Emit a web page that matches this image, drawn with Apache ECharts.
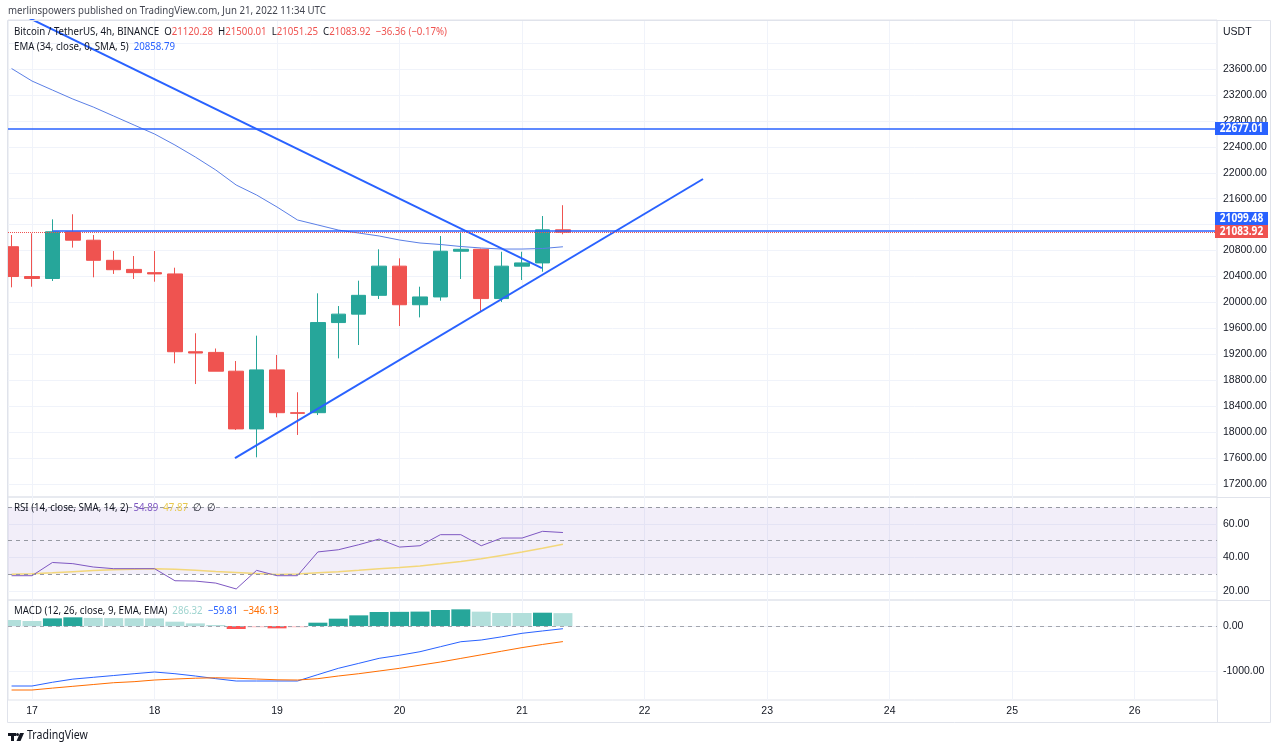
<!DOCTYPE html>
<html>
<head>
<meta charset="utf-8">
<title>BTCUSDT 4h</title>
<script src="https://cdn.jsdelivr.net/npm/echarts@6/dist/echarts.min.js"></script>
<style>
  html, body { margin: 0; padding: 0; background: #fff; }
  #chart { width: 1280px; height: 752px; }
</style>
</head>
<body>
<div id="chart"></div>
<script>
// 4h bars, index 0 = Jun 17 00:00 (first bar is Jun 16 20:00)
const firstBar = -1;
const dayLabels = ["17", "18", "19", "20", "21", "22", "23", "24", "25", "26"];

const opens  = [20860, 20400, 20370, 21090, 20960, 20650, 20510, 20460, 20440, 19240, 19230, 18940, 18050, 18960,
                18300, 18300, 19690, 19820, 20110, 20560, 19965, 20085, 20790, 20820, 20060, 20560, 20610, 21120.28];
const closes = [20400, 20370, 21090, 20960, 20650, 20505, 20460, 20440, 19240, 19220, 18940, 18050, 18960, 18300,
                18290, 19690, 19820, 20110, 20560, 19965, 20085, 20790, 20820, 20060, 20560, 20610, 21120.28, 21083.92];
const lows   = [20233, 20243, 20331, 20846, 20388, 20440, 20362, 20320, 19062, 18742, 18940, 18033, 17612, 18229,
                17957, 18264, 19138, 19344, 20053, 19637, 19770, 20027, 20362, 19857, 20007, 20346, 20474, 21051.25];
const highs  = [21040, 21066, 21282, 21360, 21040, 20793, 20716, 20793, 20536, 19525, 19290, 19097, 19488, 19190,
                18615, 20141, 19945, 20336, 20820, 20681, 20243, 21025, 21087, 20830, 20782, 20782, 21333, 21500.01];

const ema    = [23608, 23415, 23276, 23137, 23014, 22875, 22736, 22598, 22428, 22243, 22043, 21811, 21657, 21472,
                21272, 21195, 21117, 21071, 21025, 20963, 20917, 20894, 20863, 20840, 20824, 20824, 20832, 20858.79];

const rsi    = [29.1, 29.1, 37.0, 36.3, 34.3, 33.3, 33.3, 33.3, 26.1, 25.9, 24.7, 21.2, 32.3, 29.1,
                29.1, 43.3, 44.6, 47.6, 51.0, 46.2, 47.0, 53.6, 53.6, 47.0, 51.6, 51.6, 55.6, 54.89];
const rsiSma = [30.0, 30.2, 30.8, 31.5, 32.2, 32.7, 33.0, 33.3, 33.0, 32.4, 31.6, 31.0, 30.4, 29.9,
                30.1, 30.8, 31.5, 32.3, 33.2, 34.0, 34.9, 36.2, 37.6, 39.2, 41.2, 43.2, 45.5, 47.87];

const macd   = [-1333, -1333, -1250, -1180, -1140, -1100, -1060, -1022, -1060, -1111, -1170, -1222, -1222, -1222,
                -1222, -1080, -940, -830, -718, -650, -571, -460, -349, -311, -240, -162, -110, -59.81];
const signal = [-1422, -1422, -1380, -1340, -1300, -1260, -1237, -1200, -1178, -1160, -1150, -1160, -1178, -1195,
                -1200, -1170, -1111, -1060, -1000, -940, -870, -800, -720, -640, -560, -480, -410, -346.13];
const hist   = [133, 111, 170, 193, 180, 175, 172, 170, 96, 59, 22, -67, -30, -52,
                -30, 74, 163, 237, 311, 315, 320, 356, 370, 319, 289, 289, 296, 286.32];

const priceTicks = [17200, 17600, 18000, 18400, 18800, 19200, 19600, 20000, 20400, 20800, 21200, 21600,
                    22000, 22400, 22800, 23200, 23600, 24000];
const rsiTicks = [20, 40, 60];
const macdTicks = [-1000, 0];

const resistance = 22677.01;
const support = 21099.48;
// trend line anchors [bar, price]
const trendDown = [[-0.5, 24441], [24.97, 20531]];
const trendUp = [[9.94, 17601], [32.86, 21904]];

const xMin = -1.175, xMax = 58.03;
const dayTicks = dayLabels.map((d, k) => k * 6);
const barIdx = opens.map((_, k) => k + firstBar);

const UP = "#26a69a", DOWN = "#ef5350", BLUE = "#2962ff";
const FONT = "'Noto Sans', sans-serif";
const AXFONT = "'Liberation Sans', sans-serif";
const TXT = "#131722";
const SQ = 0.88; // the snapshot text is a little condensed

let chart = echarts.init(document.getElementById("chart"));

function xAxisFor(gridIndex, showLabels) {
  return {
    type: "value", gridIndex: gridIndex, min: xMin, max: xMax,
    axisLine: { show: false },
    axisTick: { show: false, customValues: dayTicks },
    axisLabel: {
      show: showLabels, customValues: dayTicks, color: TXT, fontSize: 10.5, fontFamily: AXFONT, margin: 6,
      formatter: (v) => dayLabels[Math.round(v / 6)]
    },
    splitLine: { show: true, lineStyle: { color: "#f0f3fa" } }
  };
}

function yAxisFor(gridIndex, min, max, ticks, labels) {
  return {
    type: "value", gridIndex: gridIndex, position: "right", min: min, max: max,
    axisLine: { show: false },
    axisTick: { show: false, customValues: ticks },
    axisLabel: {
      customValues: labels || ticks, color: TXT, fontSize: 10.5, fontFamily: AXFONT, margin: 6, align: "left",
      formatter: (v) => v.toFixed(2)
    },
    splitLine: { show: true, lineStyle: { color: "#f0f3fa" } }
  };
}

const candleData = barIdx.map((x, k) => [x, opens[k], closes[k], lows[k], highs[k]]);
const pair = (arr) => barIdx.map((x, k) => [x, arr[k]]);

// histogram colours follow the usual grow / fall rule
const histData = barIdx.map((x, k) => {
  const v = hist[k];
  const prev = k > 0 ? hist[k - 1] : Infinity;
  let c;
  if (v >= 0) c = v > prev ? UP : "#b2dfdb";
  else c = v < prev ? "#ff5252" : "#ffcdd2";
  return { value: [x, v], itemStyle: { color: c } };
});

let option = {
  animation: false,
  backgroundColor: "#fff",
  grid: [
    { left: 8, top: 20, width: 1209, height: 477, show: true, borderColor: "#e0e3eb", borderWidth: 1, outerBoundsMode: "none" },
    { left: 8, top: 497, width: 1209, height: 103, show: true, borderColor: "#e0e3eb", borderWidth: 1, outerBoundsMode: "none" },
    { left: 8, top: 600, width: 1209, height: 100, show: true, borderColor: "#e0e3eb", borderWidth: 1, outerBoundsMode: "none" }
  ],
  xAxis: [xAxisFor(0, false), xAxisFor(1, false), xAxisFor(2, true)],
  yAxis: [
    yAxisFor(0, 17000, 24356, priceTicks, priceTicks.slice(0, -1)),
    yAxisFor(1, 14.6, 76.1, rsiTicks),
    yAxisFor(2, -1644, 578, macdTicks)
  ],
  series: [
    {
      name: "price", type: "candlestick", xAxisIndex: 0, yAxisIndex: 0, clip: true,
      data: candleData, encode: { x: 0, y: [1, 2, 3, 4] }, barWidth: 15,
      itemStyle: { color: UP, color0: DOWN, borderColor: UP, borderColor0: DOWN, borderWidth: 1 },
      markLine: {
        silent: true, symbol: "none", animation: false,
        label: { show: false },
        data: [
          [{ coord: [xMin, closes[closes.length - 1]] }, { coord: [xMax, closes[closes.length - 1]],
            lineStyle: { color: DOWN, type: "dotted", width: 1 } }],
          [{ coord: [xMin, resistance] }, { coord: [xMax, resistance], lineStyle: { color: BLUE, type: "solid", width: 1.5 } }],
          [{ coord: [1, support] }, { coord: [xMax, support], lineStyle: { color: BLUE, type: "solid", width: 1.5 } }]
        ]
      }
    },
    {
      name: "EMA", type: "line", xAxisIndex: 0, yAxisIndex: 0, data: pair(ema),
      showSymbol: false, symbol: "none", lineStyle: { color: "#5b7fe6", width: 1 }, z: 3
    },
    {
      name: "trendDown", type: "line", xAxisIndex: 0, yAxisIndex: 0, data: trendDown,
      symbol: "none", lineStyle: { color: BLUE, width: 2 }, z: 4
    },
    {
      name: "trendUp", type: "line", xAxisIndex: 0, yAxisIndex: 0, data: trendUp,
      symbol: "none", lineStyle: { color: BLUE, width: 2 }, z: 4
    },
    {
      name: "RSI", type: "line", xAxisIndex: 1, yAxisIndex: 1, data: pair(rsi),
      symbol: "none", lineStyle: { color: "#7e57c2", width: 1 }, z: 4,
      markArea: {
        silent: true, itemStyle: { color: "rgba(126,87,194,0.1)" },
        data: [[{ yAxis: 70 }, { yAxis: 30 }]]
      },
      markLine: {
        silent: true, symbol: "none", label: { show: false },
        lineStyle: { color: "#9598a1", type: [4, 4], width: 1 },
        data: [{ yAxis: 70 }, { yAxis: 50 }, { yAxis: 30 }]
      }
    },
    {
      name: "RSI SMA", type: "line", xAxisIndex: 1, yAxisIndex: 1, data: pair(rsiSma),
      symbol: "none", lineStyle: { color: "#f3d77a", width: 1.5 }, z: 3
    },
    {
      name: "Histogram", type: "bar", xAxisIndex: 2, yAxisIndex: 2, data: histData, barWidth: 19, clip: true,
      markLine: {
        silent: true, symbol: "none", label: { show: false },
        lineStyle: { color: "#a3a6af", type: [4, 4], width: 1 },
        data: [{ yAxis: 0 }]
      }
    },
    {
      name: "MACD", type: "line", xAxisIndex: 2, yAxisIndex: 2, data: pair(macd),
      symbol: "none", lineStyle: { color: BLUE, width: 1 }, z: 4
    },
    {
      name: "Signal", type: "line", xAxisIndex: 2, yAxisIndex: 2, data: pair(signal),
      symbol: "none", lineStyle: { color: "#ff6d00", width: 1 }, z: 4
    }
  ]
};

chart.setOption(option);

// legend / header texts
const n = closes.length - 1;
const chg = closes[n] - closes[n - 1];
const pct = chg / closes[n - 1] * 100;
const minus = (v) => (v < 0 ? "\u2212" : "") + Math.abs(v).toFixed(2);
const f = (s) => s + "px " + FONT;

function legendText(x, y, text, rich) {
  const r = {};
  Object.keys(rich).forEach((k) => { r[k] = { fill: rich[k], font: f(11) }; });
  return { type: "text", x: x, y: y, scaleX: SQ, z: 100, style: { text: text, font: f(11), verticalAlign: "top", rich: r } };
}

function priceTag(value, color, dy) {
  const yc = chart.convertToPixel({ yAxisIndex: 0 }, value) + dy;
  return [
    { type: "rect", z: 99, shape: { x: 1215, y: Math.round(yc - 6.5), width: 53, height: 13 }, style: { fill: color } },
    {
      type: "text", x: 1241.5, y: Math.round(yc - 6.5) + 7, scaleX: SQ, z: 100,
      style: { text: value.toFixed(2), fill: "#fff", font: "bold " + f(11.5), align: "center", verticalAlign: "middle" }
    }
  ];
}

const graphics = [
  // cover anything spilling left of the panes
  { type: "rect", z: 40, shape: { x: 0, y: 20, width: 7.5, height: 702 }, style: { fill: "#fff" } },
  { type: "rect", z: 50, shape: { x: 7.5, y: 20.5, width: 1263, height: 702 }, style: { fill: "none", stroke: "#e0e3eb", lineWidth: 1 } },
  { type: "line", z: 50, shape: { x1: 1217, y1: 497.5, x2: 1271, y2: 497.5 }, style: { stroke: "#e0e3eb" } },
  { type: "line", z: 50, shape: { x1: 1217, y1: 600.5, x2: 1271, y2: 600.5 }, style: { stroke: "#e0e3eb" } },
  { type: "line", z: 50, shape: { x1: 1217.5, y1: 700, x2: 1217.5, y2: 722 }, style: { stroke: "#e0e3eb" } },
  legendText(8, 5, "{t|merlinspowers published on TradingView.com, Jun 21, 2022 11:34 UTC}", { t: "#434651" }),
  legendText(14, 26,
    "{t|Bitcoin / TetherUS, 4h, BINANCE  O}{r|" + opens[n].toFixed(2) + "}{t|  H}{r|" + highs[n].toFixed(2) +
    "}{t|  L}{r|" + lows[n].toFixed(2) + "}{t|  C}{r|" + closes[n].toFixed(2) + "}{r|  " + minus(chg) + " (" + minus(pct) + "%)}",
    { t: TXT, r: DOWN }),
  legendText(14, 41, "{t|EMA (34, close, 0, SMA, 5)  }{b|" + ema[n].toFixed(2) + "}", { t: TXT, b: BLUE }),
  legendText(14, 502,
    "{t|RSI (14, close, SMA, 14, 2)  }{p|" + rsi[n].toFixed(2) + "}{t|  }{y|" + rsiSma[n].toFixed(2) + "}{t|  \u2205  \u2205}",
    { t: TXT, p: "#7e57c2", y: "#e8c94f" }),
  legendText(14, 605,
    "{t|MACD (12, 26, close, 9, EMA, EMA)  }{h|" + hist[n].toFixed(2) + "}{t|  }{b|" + minus(macd[n]) +
    "}{t|  }{o|" + minus(signal[n]) + "}",
    { t: TXT, h: "#9fd4cf", b: BLUE, o: "#ff6d00" }),
  { type: "rect", z: 90, shape: { x: 1218, y: 26, width: 52, height: 14 }, style: { fill: "#fff" } },
  { type: "text", x: 1223, y: 27, z: 100, style: { text: "USDT", fill: TXT, font: "10.5px " + AXFONT, verticalAlign: "top" } },
  ...priceTag(resistance, BLUE, 0),
  ...priceTag(support, BLUE, -13),
  ...priceTag(closes[n], DOWN, -1),
  // logo
  { type: "rect", z: 100, shape: { x: 8, y: 733, width: 8, height: 3 }, style: { fill: TXT } },
  { type: "rect", z: 100, shape: { x: 11, y: 733, width: 3, height: 8 }, style: { fill: TXT } },
  { type: "circle", z: 100, shape: { cx: 17.5, cy: 734.5, r: 1.5 }, style: { fill: TXT } },
  { type: "polygon", z: 100, shape: { points: [[20, 733], [24, 733], [20.5, 741], [16.5, 741]] }, style: { fill: TXT } },
  { type: "text", x: 27, y: 730, scaleX: SQ, z: 100, style: { text: "TradingView", fill: TXT, font: f(12), verticalAlign: "top" } }
];

chart.setOption({ graphic: graphics });
</script>
</body>
</html>
